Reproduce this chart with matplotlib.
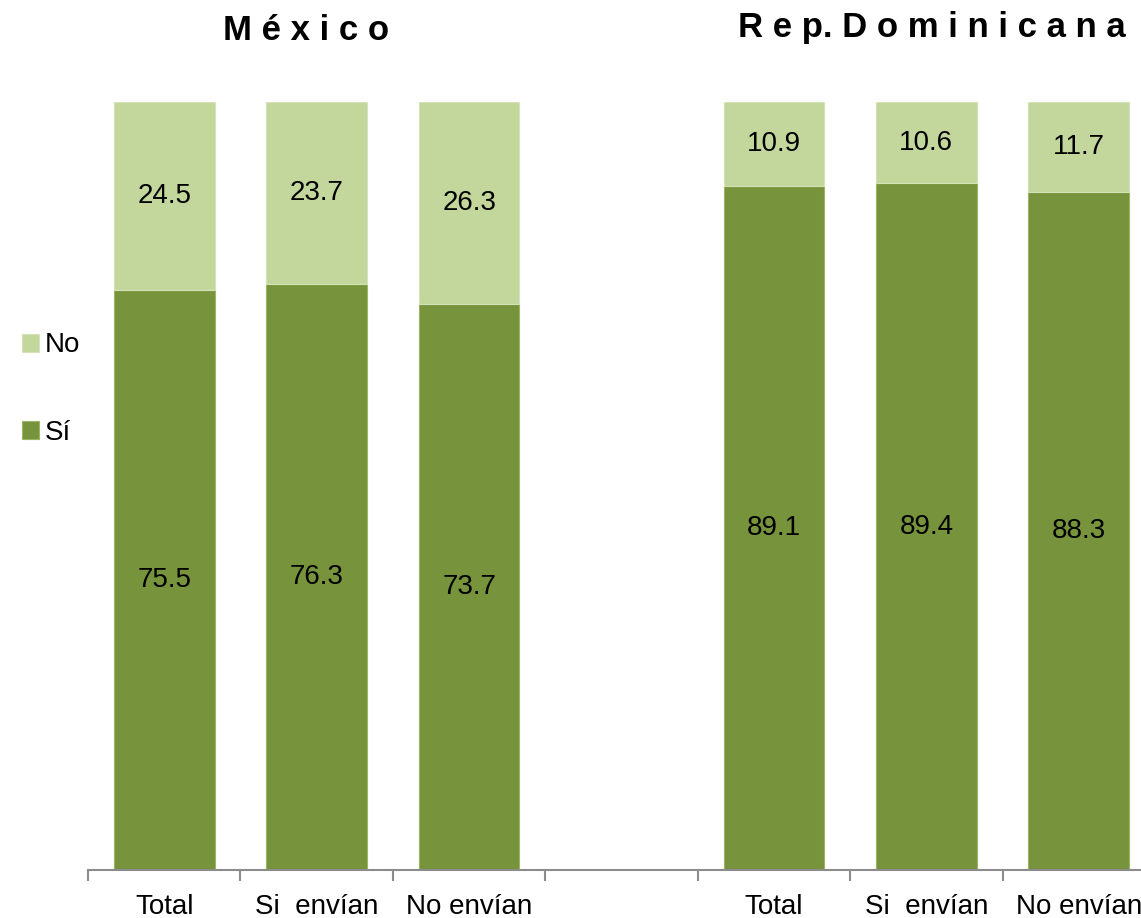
import matplotlib.pyplot as plt
import numpy as np

# Datos
categorias = ["Total", "Si  envían", "No envían", "", "Total", "Si  envían", "No envían"]
si_mex = [75.5, 76.3, 73.7]
no_mex = [24.5, 23.7, 26.3]
si_rd = [89.1, 89.4, 88.3]
no_rd = [10.9, 10.6, 11.7]

verde_osc = "#77933C"
verde_cla = "#C3D69B"

plt.rcParams['font.family'] = ['Liberation Sans', 'DejaVu Sans']

fig = plt.figure(figsize=(11.41, 9.18), dpi=100)
ax = fig.add_axes([88 / 1141, 48 / 918, (1155 - 88) / 1141, 768 / 918])

x_mex = np.array([0, 1, 2])
x_rd = np.array([4, 5, 6])
ancho = 0.66

for xs, si, no in [(x_mex, si_mex, no_mex), (x_rd, si_rd, no_rd)]:
    b1 = ax.bar(xs, si, width=ancho, color=verde_osc, edgecolor="#9BB565", linewidth=0.8, label="Sí")
    b2 = ax.bar(xs, no, width=ancho, bottom=si, color=verde_cla, edgecolor="#D5E3B8", linewidth=0.8, label="No")
    for x, s, n in zip(xs, si, no):
        ax.text(x, s / 2, f"{s:.1f}", ha="center", va="center", fontsize=20)
        ax.text(x, s + n / 2, f"{n:.1f}", ha="center", va="center", fontsize=20)

ax.set_xlim(-0.5, 6.5)
ax.set_ylim(0, 100)
ax.set_yticks([])
for s in ["top", "right", "left"]:
    ax.spines[s].set_visible(False)
ax.spines["bottom"].set_color("#8C8C8C")
ax.spines["bottom"].set_linewidth(1.5)

ax.set_xticks(np.arange(7))
ax.set_xticklabels(categorias, fontsize=20)
ax.tick_params(axis="x", length=0, pad=17)
ax.set_xticks(np.arange(-0.5, 7, 1), minor=True)
ax.tick_params(axis="x", which="minor", length=8, width=1.5, color="#8C8C8C")

# Títulos
fig.text(306 / 1141, 1 - 30 / 918, "M é x i c o", ha="center", va="center",
         fontsize=25, fontweight="bold")
fig.text(932 / 1141, 1 - 28 / 918, "R e p. D o m i n i c a n a", ha="center", va="center",
         fontsize=25, fontweight="bold")

# Leyenda
h, l = ax.get_legend_handles_labels()
fig.legend([h[1], h[0]], ["No", "Sí"], loc="center left", bbox_to_anchor=(-3 / 1141, 1 - 389 / 918),
           frameon=False, fontsize=20, handlelength=0.62, handleheight=0.62,
           handletextpad=0.2, labelspacing=2.2)

fig.savefig("out.png", dpi=100)
